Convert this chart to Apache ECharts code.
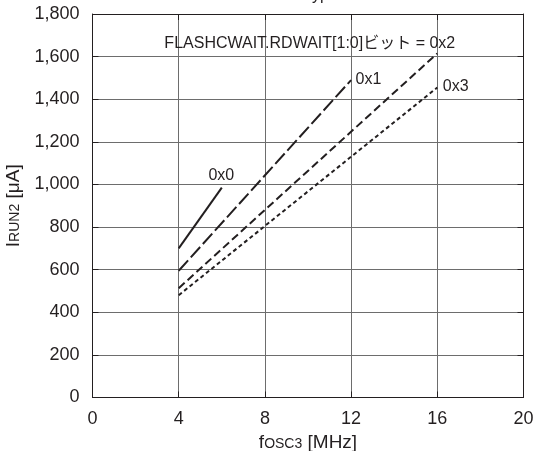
<!DOCTYPE html>
<html>
<head>
<meta charset="utf-8">
<script src="https://cdn.jsdelivr.net/npm/echarts@6/dist/echarts.min.js"></script>
<style>
  html, body { margin: 0; padding: 0; background: #fff; }
  #chart { width: 536px; height: 451px; }
</style>
</head>
<body>
<div id="chart"></div>
<script>
// Supply current vs. oscillator frequency for each flash read-wait setting
const xTicks = [0, 4, 8, 12, 16, 20];
const yTicks = [0, 200, 400, 600, 800, 1000, 1200, 1400, 1600, 1800];

const freq0 = [4, 6];
const curr0 = [700, 985];

const freq1 = [4, 12];
const curr1 = [595, 1490];

const freq2 = [4, 16];
const curr2 = [513, 1615];

const freq3 = [4, 16];
const curr3 = [480, 1455];

const labels = ['0x0', '0x1', 'FLASHCWAIT.RDWAIT[1:0]ビット = 0x2', '0x3'];

const FONT = "'Liberation Sans', Arial, 'Noto Sans CJK JP', sans-serif";
const INK = '#231f20';

function pairs(xs, ys) { return xs.map((x, i) => [x, ys[i]]); }

const chart = echarts.init(document.getElementById('chart'), null, { renderer: 'canvas' });

function lineSeries(xs, ys, dash, label) {
  const data = pairs(xs, ys);
  const last = data.length - 1;
  return {
    type: 'line',
    data: data.map((d, i) => i === last ? { value: d, label: label } : { value: d }),
    showSymbol: true,
    symbol: 'circle',
    symbolSize: 1,
    itemStyle: { color: 'rgba(0,0,0,0)', borderWidth: 0 },
    animation: false,
    silent: true,
    lineStyle: { color: INK, width: 2, type: dash, cap: 'butt' },
    label: { show: false },
    labelLayout: { hideOverlap: false }
  };
}

// series tags sit next to the last point of each line
function tag(text, pos, align) {
  return {
    show: true, formatter: text, position: pos,
    align: align, verticalAlign: 'middle',
    color: INK, fontFamily: FONT, fontSize: 16
  };
}

const xAxisCommon = { type: 'value', min: 0, max: 20, interval: 4 };
const yAxisCommon = { type: 'value', min: 0, max: 1800, interval: 200 };

const nameRich = {
  f: { fontSize: 19, fontFamily: FONT, color: INK, verticalAlign: 'bottom' },
  s: { fontSize: 14, fontFamily: FONT, color: INK, verticalAlign: 'bottom', padding: [0, 0, 1, 0] },
  n: { fontSize: 19, fontFamily: FONT, color: INK, verticalAlign: 'bottom' }
};

chart.setOption({
  animation: false,
  backgroundColor: '#fff',
  title: {
    text: 'Typ.',
    left: 298,
    top: -17,
    textStyle: { fontFamily: FONT, fontSize: 16, fontWeight: 'normal', color: INK }
  },
  grid: { left: 92.5, right: 12.5, top: 14, bottom: 53.5, containLabel: false, outerBoundsMode: 'none' },
  xAxis: [
    Object.assign({}, xAxisCommon, {
      position: 'bottom',
      name: '{f|f}{s|OSC3}{n| [MHz]}',
      nameLocation: 'middle',
      nameGap: 36,
      nameTextStyle: { color: INK, fontFamily: FONT, rich: nameRich },
      axisLine: { show: true, onZero: false, lineStyle: { color: INK, width: 1 } },
      axisTick: { show: true, inside: true, length: 6, lineStyle: { color: INK } },
      axisLabel: { color: INK, fontFamily: FONT, fontSize: 18, margin: 13,
        formatter: v => xTicks.includes(v) ? String(v) : '' },
      splitLine: { show: true, lineStyle: { color: '#6d6d6d', width: 1 } }
    }),
    Object.assign({}, xAxisCommon, {
      position: 'top',
      axisLine: { show: true, onZero: false, lineStyle: { color: INK, width: 1 } },
      axisTick: { show: true, inside: true, length: 6, lineStyle: { color: INK } },
      axisLabel: { show: false },
      splitLine: { show: false }
    })
  ],
  yAxis: [
    Object.assign({}, yAxisCommon, {
      position: 'left',
      name: '{f|I}{s|RUN2}{n| [μA]}',
      nameLocation: 'middle',
      nameRotate: 90,
      nameGap: 62,
      nameTextStyle: { color: INK, fontFamily: FONT, rich: nameRich },
      axisLine: { show: true, onZero: false, lineStyle: { color: INK, width: 1 } },
      axisTick: { show: true, inside: true, length: 6, lineStyle: { color: INK } },
      axisLabel: { color: INK, fontFamily: FONT, fontSize: 18, margin: 13,
        formatter: v => yTicks.includes(v) ? v.toLocaleString('en-US') : '' },
      splitLine: { show: true, lineStyle: { color: '#6d6d6d', width: 1 } }
    }),
    Object.assign({}, yAxisCommon, {
      position: 'right',
      axisLine: { show: true, onZero: false, lineStyle: { color: INK, width: 1 } },
      axisTick: { show: true, inside: true, length: 6, lineStyle: { color: INK } },
      axisLabel: { show: false },
      splitLine: { show: false }
    })
  ],
  series: [
    lineSeries(freq0, curr0, 'solid', tag(labels[0], [0, -12], 'center')),
    lineSeries(freq1, curr1, [14, 4], tag(labels[1], [5, 0], 'left')),
    lineSeries(freq2, curr2, [8, 4], tag(labels[2], [-127, -9], 'center')),
    lineSeries(freq3, curr3, [4, 3], tag(labels[3], [6, 0], 'left'))
  ]
});
</script>
</body>
</html>
